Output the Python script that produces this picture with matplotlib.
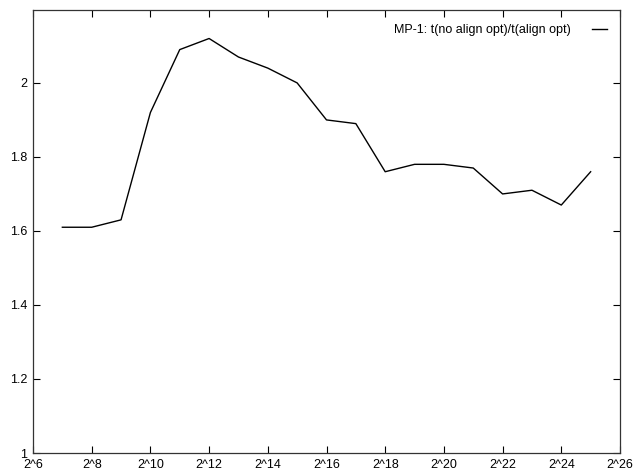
import math
import matplotlib
matplotlib.use("Agg")
import matplotlib.pyplot as plt
from matplotlib.ticker import FixedLocator, FuncFormatter, NullLocator

plt.rcParams['font.family'] = ['Liberation Sans', 'DejaVu Sans']

exponents = [7, 8, 9, 10, 11, 12, 13, 14, 15, 16, 17, 18, 19, 20, 21, 22, 23, 24, 25]
ratio = [1.61, 1.61, 1.63, 1.92, 2.09, 2.12, 2.07, 2.04, 2.00, 1.90, 1.89,
         1.76, 1.78, 1.78, 1.77, 1.70, 1.71, 1.67, 1.76]
series_label = "MP-1: t(no align opt)/t(align opt)"
x_tick_exps = [6, 8, 10, 12, 14, 16, 18, 20, 22, 24, 26]
y_ticks = [1, 1.2, 1.4, 1.6, 1.8, 2]

sizes = [2.0 ** e for e in exponents]

fig = plt.figure(figsize=(6.36, 4.72), dpi=100)
ax = fig.add_axes([33 / 636, 19 / 472, 587 / 636, 443 / 472])
ax.set_xscale('log', base=2)
ax.plot(sizes, ratio, color='black', lw=1.0, label=series_label)

ax.set_xlim(2.0 ** 6, 2.0 ** 26)
ax.set_ylim(1, 2.197)

ax.xaxis.set_major_locator(FixedLocator([2.0 ** e for e in x_tick_exps]))
ax.xaxis.set_minor_locator(NullLocator())
ax.xaxis.set_major_formatter(FuncFormatter(lambda v, p: "2^%d" % round(math.log2(v))))
ax.set_yticks(y_ticks)
ax.yaxis.set_major_formatter(FuncFormatter(lambda v, p: ("%g" % round(v, 1))))

ax.tick_params(direction='in', length=5, width=0.8, top=True, right=True,
               labelsize=9, colors='black', pad=4)
for s in ax.spines.values():
    s.set_linewidth(0.9)
    s.set_color('#333333')

leg = ax.legend(loc='upper right', frameon=False, markerfirst=False,
                fontsize=9, handlelength=1.2, handletextpad=1.7,
                borderaxespad=0.4, bbox_to_anchor=(0.995, 0.991))

fig.savefig('out.png', dpi=100)
